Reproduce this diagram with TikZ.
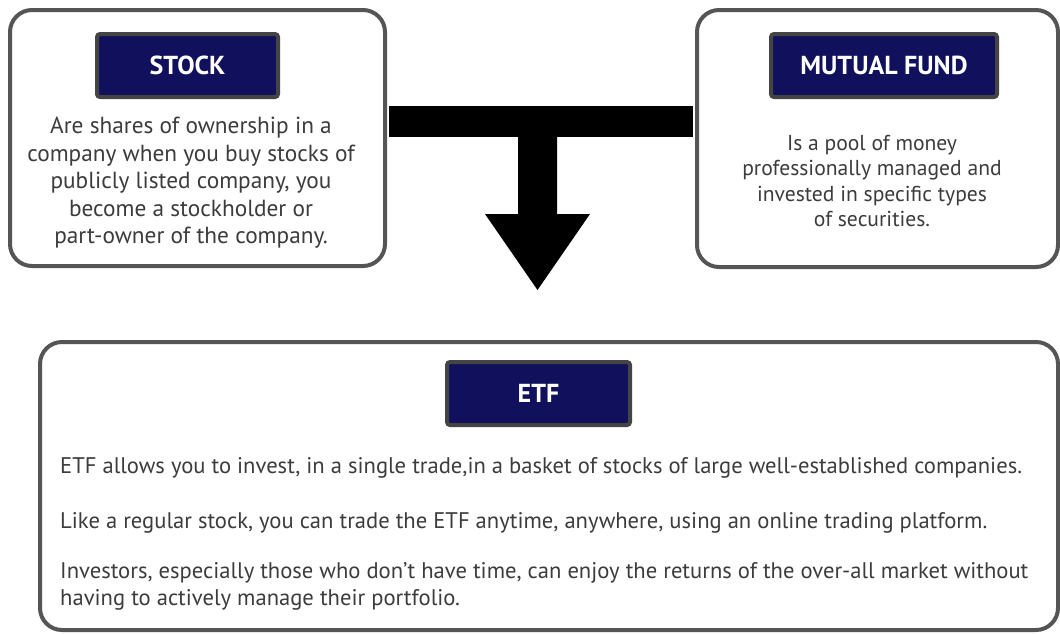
\documentclass[tikz,border=0pt]{standalone}
\usepackage{fontspec}
\setmainfont{PT Sans}
\usetikzlibrary{positioning}

\definecolor{navy}{RGB}{16,16,92}
\definecolor{boxgray}{RGB}{85,85,85}
\definecolor{txtgray}{RGB}{60,60,60}

\tikzset{
  card/.style={draw=boxgray, line width=4pt, rounded corners=22pt, fill=white},
  title/.style={draw=boxgray!80!black, line width=4pt, rounded corners=3pt, fill=navy,
    text=white, minimum height=63pt, inner sep=0pt, font=\fontsize{26}{30}\selectfont\bfseries},
  blurb/.style={text=txtgray, align=center, font=\fontsize{23.3}{27.5}\selectfont},
  etftext/.style={text=txtgray, align=left, anchor=west, inner sep=0pt, font=\fontsize{22.6}{27}\selectfont}
}

\begin{document}
\begin{tikzpicture}[x=1pt,y=-1pt]
	\useasboundingbox (0,0) rectangle (1060,633);
	% the three cards
	\node[card, minimum width=375pt, minimum height=256pt] (stock) at (197.5,138) {};
	\node[card, minimum width=361pt, minimum height=257pt] (fund) at (877.5,138.5) {};
	\node[card, minimum width=1018pt, minimum height=288pt] (etf) at (549,486) {};

	% titles
	\node[title, minimum width=181pt] (stockT) at (187.5,65.5) {STOCK};
	\node[title, minimum width=226pt] (fundT) at (884,65.5) {MUTUAL FUND};
	\node[title, minimum width=183pt] (etfT) at (538.5,393.5) {ETF};

	\node[blurb] (stockB) at (191,183) {Are shares of ownership in a\\company when you buy stocks of\\publicly listed company, you\\become a stockholder or\\part-owner of the company.};
	\node[blurb, font=\fontsize{21.6}{25.5}\selectfont] (fundB) at (872,181) {Is a pool of money\\professionally managed and\\invested in specific types\\of securities.};

	\node[etftext] (etf1) at (60,468) {ETF allows you to invest, in a single trade,in a basket of stocks of large well-established companies.};
	\node[etftext] (etf2) at (60,523) {Like a regular stock, you can trade the ETF anytime, anywhere, using an online trading platform.};
	\node[etftext] (etf3) at (60,586.5) {Investors, especially those who don’t have time, can enjoy the returns of the over-all market without\\having to actively manage their portfolio.};

	% the T connector and its arrow
	\coordinate (join) at (537.5,121.5);
	\draw[line width=31pt, shorten <=2pt, shorten >=2pt] (stock.east |- join) -- (fund.west |- join);
	\fill (join) ++(-19.5,0) -- ++(0,92.5) -- ++(-33,0) -- ++(52.5,76) -- ++(52.5,-76) -- ++(-33,0) -- ++(0,-92.5) -- cycle;
\end{tikzpicture}
\end{document}
